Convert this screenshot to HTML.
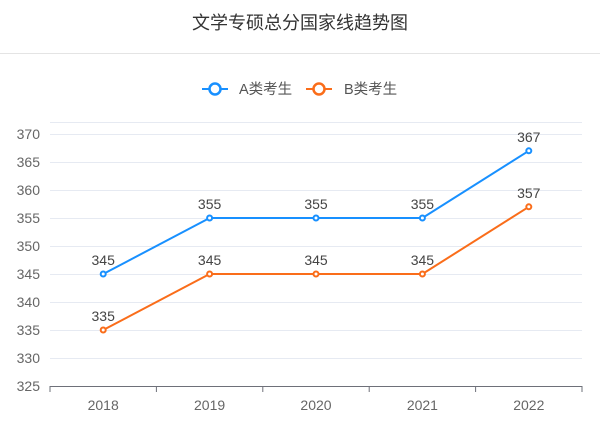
<!DOCTYPE html>
<html><head><meta charset="utf-8"><style>
body{margin:0;background:#fff;width:600px;height:420px;overflow:hidden;font-family:"Liberation Sans","Noto Sans CJK SC",sans-serif}
</style></head><body>
<svg width="600" height="420">
<text x="300" y="29" text-anchor="middle" font-size="18" fill="#333" font-family="Liberation Sans, Noto Sans CJK SC, sans-serif">文学专硕总分国家线趋势图</text>
<line x1="0" y1="53.5" x2="600" y2="53.5" stroke="#e4e4e4"/>
<g>
<line x1="202" y1="89" x2="228" y2="89" stroke="#1890ff" stroke-width="2"/>
<circle cx="215" cy="89" r="5.5" fill="#fff" stroke="#1890ff" stroke-width="2.5"/>
<text x="239" y="94" font-size="14.5" fill="#555" font-family="Liberation Sans, Noto Sans CJK SC, sans-serif">A类考生</text></g>
<g>
<line x1="306" y1="89" x2="332" y2="89" stroke="#fa6d1a" stroke-width="2"/>
<circle cx="319" cy="89" r="5.5" fill="#fff" stroke="#fa6d1a" stroke-width="2.5"/>
<text x="344" y="94" font-size="14.5" fill="#555" font-family="Liberation Sans, Noto Sans CJK SC, sans-serif">B类考生</text></g>
<line x1="50" y1="122.5" x2="582" y2="122.5" stroke="#e6eaf2"/>
<g id="grid"></g><g id="xaxis"></g><g id="series"></g>
</svg>
<script>
const categories=["2018","2019","2020","2021","2022"];
const seriesA=[345,355,355,355,367];
const seriesB=[335,345,345,345,357];
const yTicks=[325,330,335,340,345,350,355,360,365,370];
const NS="http://www.w3.org/2000/svg";
const L=50,R=582,band=(R-L)/categories.length;
const x=i=>L+band*(i+0.5);
const y=v=>386-(v-325)*28/5;
function mk(t,a,p){const e=document.createElementNS(NS,t);for(const k in a)e.setAttribute(k,a[k]);p.appendChild(e);return e;}
const g=document.getElementById('grid');
yTicks.forEach(v=>{
 if(v>325){const ln=mk('line',{x1:L,x2:R,y1:y(v)+.5,y2:y(v)+.5,stroke:'#e6eaf2'},g);
 
 }
 const t=mk('text',{x:40,y:y(v)+5,'text-anchor':'end','font-size':14,fill:'#666'},g);t.textContent=v;
 
 
});
const xa=document.getElementById('xaxis');
const ax=mk('line',{x1:L,x2:R,y1:386.5,y2:386.5,stroke:'#6e7079'},xa);


for(let i=0;i<=categories.length;i++){mk('line',{x1:L+band*i,x2:L+band*i,y1:386,y2:392,stroke:'#6e7079'},xa);}
categories.forEach((c,i)=>{const t=mk('text',{x:x(i),y:410,'text-anchor':'middle','font-size':14,fill:'#666'},xa);t.textContent=c;
 
 });
const s=document.getElementById('series');
[[seriesB,'#fa6d1a','series-b'],[seriesA,'#1890ff','series-a']].forEach(([d,col,n])=>{
 const p=mk('polyline',{points:d.map((v,i)=>x(i)+','+y(v)).join(' '),fill:'none',stroke:col,'stroke-width':2},s);
 
 
 d.forEach((v,i)=>{const c=mk('circle',{cx:x(i),cy:y(v),r:2.5,fill:'#fff',stroke:col,'stroke-width':2},s);
  
  
  const t=mk('text',{x:x(i),y:y(v)-9,'text-anchor':'middle','font-size':14,fill:'#444'},s);t.textContent=v;
  
  });
});
</script>
</body></html>
